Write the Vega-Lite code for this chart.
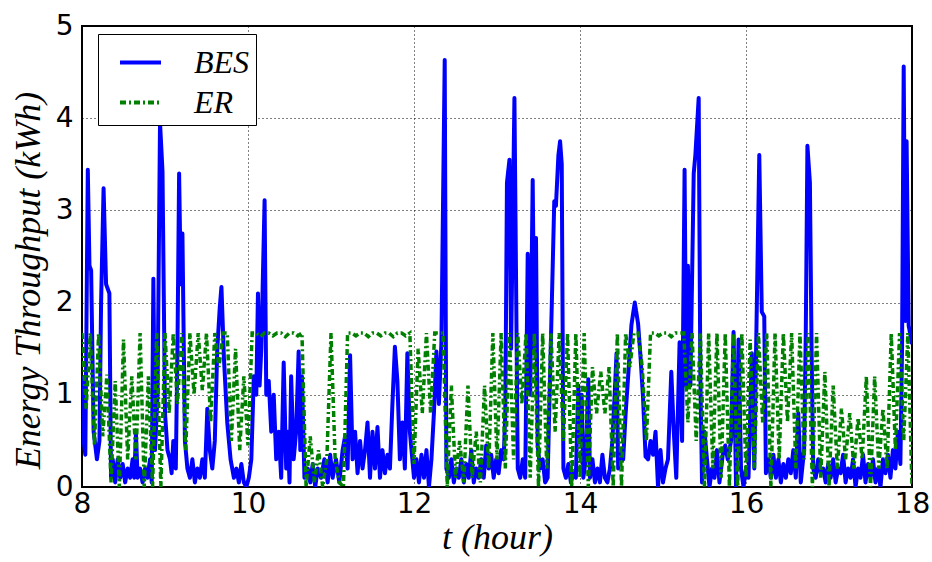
{
  "$schema": "https://vega.github.io/schema/vega-lite/v6.json",
  "width": 830,
  "height": 461,
  "autosize": {"type": "none"},
  "padding": {"left": 82, "top": 26, "right": 20, "bottom": 75},
  "background": "white",
  "config": {
    "view": {"stroke": "black", "strokeWidth": 2},
    "axis": {
      "domain": false,
      "grid": true,
      "gridColor": "black",
      "gridDash": [1, 3],
      "gridWidth": 1,
      "gridOpacity": 1,
      "ticks": false,
      "labelFlush": false,
      "labelFont": "DejaVu Sans",
      "labelFontSize": 28,
      "labelColor": "black",
      "titleFont": "Liberation Serif",
      "titleFontStyle": "italic",
      "titleFontWeight": "normal",
      "titleFontSize": 36,
      "titleColor": "black"
    },
    "legend": {
      "labelFont": "Liberation Serif",
      "labelFontStyle": "italic",
      "labelFontSize": 32,
      "labelColor": "black"
    }
  },
  "datasets": {
    "bes": [
      [8.00,1.2],[8.02,0.5],[8.04,0.35],[8.07,3.44],[8.09,2.4],[8.11,2.35],[8.14,0.6],[8.18,0.3],[8.21,0.5],[8.23,2.0],[8.26,3.24],[8.29,2.2],[8.33,2.1],[8.35,0.1],[8.37,0.3],[8.40,0.05],[8.43,0.3],[8.46,0.1],[8.49,0.25],[8.52,0.05],[8.55,0.2],[8.58,0.1],[8.61,0.3],[8.63,0.1],[8.65,0.58],[8.67,0.1],[8.70,0.2],[8.73,0.05],[8.76,0.2],[8.79,0.1],[8.82,0.3],[8.84,0.05],[8.86,2.26],[8.88,0.4],[8.91,1.0],[8.94,3.95],[8.97,3.42],[9.00,0.8],[9.03,0.4],[9.06,0.3],[9.08,0.15],[9.10,0.5],[9.13,0.2],[9.15,1.5],[9.17,3.4],[9.19,2.2],[9.21,2.75],[9.24,0.5],[9.27,0.2],[9.30,0.1],[9.33,0.3],[9.36,0.05],[9.39,0.2],[9.42,0.1],[9.45,0.3],[9.48,0.1],[9.51,0.85],[9.54,0.4],[9.57,0.2],[9.60,0.5],[9.63,1.5],[9.66,1.95],[9.68,2.17],[9.71,1.4],[9.75,0.7],[9.79,0.3],[9.83,0.1],[9.86,0.2],[9.89,0.05],[9.92,0.25],[9.95,0.05],[9.98,0.0],[10.01,0.1],[10.04,0.3],[10.07,1.2],[10.10,1.0],[10.12,2.1],[10.14,1.1],[10.16,1.5],[10.20,3.11],[10.22,1.0],[10.25,1.15],[10.28,0.6],[10.31,1.0],[10.34,0.3],[10.37,0.6],[10.40,0.1],[10.43,1.35],[10.46,0.2],[10.48,0.6],[10.50,0.05],[10.52,1.2],[10.55,0.3],[10.58,0.6],[10.61,1.47],[10.63,0.4],[10.65,1.2],[10.68,0.1],[10.72,0.2],[10.75,0.05],[10.78,0.25],[10.81,0.0],[10.84,0.2],[10.88,0.1],[10.92,0.3],[10.96,0.05],[10.99,0.35],[11.02,0.1],[11.06,0.3],[11.10,0.05],[11.14,0.4],[11.17,0.55],[11.20,0.2],[11.23,1.43],[11.26,0.3],[11.29,0.6],[11.32,0.15],[11.35,0.5],[11.38,0.2],[11.41,0.4],[11.44,0.7],[11.47,0.1],[11.50,0.6],[11.53,0.2],[11.56,0.65],[11.59,0.1],[11.62,0.4],[11.65,0.15],[11.68,0.35],[11.71,0.2],[11.74,0.9],[11.77,1.52],[11.80,1.15],[11.83,0.3],[11.86,0.7],[11.89,0.2],[11.92,1.45],[11.95,0.6],[11.98,0.3],[12.00,0.1],[12.03,0.3],[12.06,0.05],[12.09,0.35],[12.12,0.1],[12.15,0.4],[12.18,0.0],[12.21,0.3],[12.24,0.8],[12.27,1.47],[12.30,0.9],[12.33,1.56],[12.37,4.63],[12.39,0.2],[12.42,0.1],[12.45,0.3],[12.48,0.05],[12.51,0.2],[12.54,0.1],[12.57,0.3],[12.60,0.05],[12.63,0.25],[12.66,0.1],[12.69,0.4],[12.72,0.05],[12.75,0.2],[12.78,0.1],[12.81,0.3],[12.84,0.1],[12.87,0.45],[12.90,0.2],[12.93,0.35],[12.96,0.1],[12.99,0.3],[13.02,0.15],[13.05,0.4],[13.08,0.3],[13.10,0.8],[13.12,3.3],[13.15,3.55],[13.17,1.5],[13.21,4.22],[13.25,0.2],[13.28,0.1],[13.31,0.3],[13.34,0.1],[13.37,2.53],[13.40,1.0],[13.43,3.33],[13.45,1.5],[13.47,2.7],[13.49,0.45],[13.52,0.2],[13.55,0.3],[13.58,0.05],[13.61,0.1],[13.69,3.1],[13.71,3.05],[13.74,3.6],[13.76,3.75],[13.78,3.5],[13.80,0.2],[13.83,0.1],[13.86,0.25],[13.89,0.05],[13.92,0.15],[13.95,0.1],[13.98,1.1],[14.00,0.5],[14.02,1.0],[14.04,0.1],[14.07,0.3],[14.10,1.17],[14.12,0.1],[14.15,0.3],[14.18,0.05],[14.21,0.2],[14.24,0.05],[14.27,0.35],[14.30,0.1],[14.33,0.05],[14.36,0.2],[14.39,0.5],[14.42,1.05],[14.44,1.45],[14.46,0.2],[14.49,0.4],[14.52,0.3],[14.55,0.8],[14.58,1.2],[14.62,1.76],[14.66,2.0],[14.70,1.77],[14.73,1.4],[14.76,0.96],[14.79,0.33],[14.82,0.3],[14.85,0.5],[14.88,0.35],[14.91,0.6],[14.94,0.0],[14.97,0.4],[15.00,0.05],[15.03,0.2],[15.06,0.3],[15.10,1.25],[15.13,0.6],[15.16,0.1],[15.20,1.57],[15.23,0.5],[15.26,3.44],[15.28,1.1],[15.30,2.4],[15.33,1.1],[15.37,3.4],[15.39,3.6],[15.43,4.22],[15.45,1.2],[15.47,0.05],[15.50,0.6],[15.53,0.3],[15.56,0.0],[15.59,0.2],[15.62,0.1],[15.65,0.4],[15.68,0.05],[15.72,0.35],[15.75,0.45],[15.78,0.3],[15.82,0.5],[15.85,1.68],[15.88,0.0],[15.91,1.6],[15.94,0.2],[15.97,0.0],[16.00,0.2],[16.03,0.1],[16.07,1.45],[16.10,0.2],[16.12,1.4],[16.16,3.6],[16.19,1.9],[16.22,1.85],[16.24,0.15],[16.27,0.3],[16.30,0.1],[16.33,0.35],[16.36,0.1],[16.39,0.3],[16.42,0.05],[16.45,0.25],[16.48,0.1],[16.51,0.3],[16.54,0.15],[16.57,0.4],[16.60,0.1],[16.63,0.8],[16.66,0.05],[16.70,0.4],[16.72,1.65],[16.74,3.7],[16.77,3.3],[16.79,1.5],[16.81,0.2],[16.84,0.1],[16.87,0.3],[16.90,0.15],[16.93,0.2],[16.96,0.05],[16.99,0.25],[17.02,0.1],[17.05,0.3],[17.08,0.05],[17.11,0.2],[17.14,0.15],[17.17,0.35],[17.20,0.05],[17.23,0.2],[17.26,0.1],[17.29,0.3],[17.32,0.0],[17.35,0.2],[17.38,0.1],[17.41,0.35],[17.44,0.05],[17.47,0.25],[17.50,0.1],[17.53,0.3],[17.56,0.05],[17.59,0.2],[17.62,0.0],[17.65,0.3],[17.68,0.15],[17.71,0.35],[17.74,0.1],[17.77,0.4],[17.80,0.2],[17.83,0.6],[17.86,0.25],[17.88,1.5],[17.90,4.56],[17.92,1.8],[17.935,3.75],[17.96,1.75],[18.00,1.55]
    ],
    "er": [
      [8.00,1.67],[8.05,0.85],[8.10,1.67],[8.15,0.45],[8.20,1.67],[8.25,0.55],[8.30,1.22],[8.35,0.05],[8.40,1.15],[8.45,0.0],[8.50,1.6],[8.55,0.3],[8.60,1.2],[8.65,0.3],[8.70,1.67],[8.75,0.0],[8.80,1.2],[8.85,0.0],[8.90,1.67],[8.95,0.0],[9.00,1.67],[9.05,0.8],[9.10,1.67],[9.15,0.9],[9.20,1.67],[9.25,0.4],[9.30,1.67],[9.35,1.0],[9.40,1.67],[9.45,1.05],[9.50,1.67],[9.55,0.7],[9.60,1.67],[9.65,1.3],[9.70,1.67],[9.75,1.67],[9.80,0.5],[9.85,1.5],[9.90,0.4],[9.95,1.2],[10.00,0.45],[10.05,1.67],[10.10,1.67],[10.15,1.63],[10.20,1.67],[10.25,1.67],[10.30,1.64],[10.35,1.67],[10.40,1.67],[10.45,1.63],[10.50,1.67],[10.55,1.67],[10.60,1.64],[10.65,1.67],[10.70,0.0],[10.75,0.55],[10.80,0.05],[10.85,0.4],[10.90,0.0],[10.95,0.3],[11.00,1.67],[11.05,0.3],[11.10,0.05],[11.15,0.0],[11.20,1.67],[11.25,1.67],[11.30,1.64],[11.35,1.67],[11.40,1.67],[11.45,1.63],[11.50,1.67],[11.55,1.67],[11.60,1.64],[11.65,1.67],[11.70,1.67],[11.75,1.63],[11.80,1.67],[11.85,1.67],[11.90,1.64],[11.95,1.67],[12.00,0.25],[12.05,1.5],[12.10,0.8],[12.15,1.67],[12.20,0.8],[12.25,1.67],[12.30,1.67],[12.35,1.67],[12.40,0.0],[12.45,1.1],[12.50,0.1],[12.55,0.5],[12.60,0.05],[12.65,1.1],[12.70,0.1],[12.75,0.6],[12.80,0.05],[12.85,1.1],[12.90,0.2],[12.95,1.67],[13.00,0.3],[13.05,1.67],[13.10,0.2],[13.15,1.67],[13.20,0.3],[13.25,1.67],[13.30,0.9],[13.35,1.67],[13.40,0.1],[13.45,1.67],[13.50,0.0],[13.55,1.67],[13.60,0.2],[13.65,1.67],[13.70,0.6],[13.75,1.67],[13.80,0.5],[13.85,1.67],[13.90,0.0],[13.95,1.67],[14.00,0.1],[14.05,1.67],[14.10,0.0],[14.15,1.3],[14.20,0.8],[14.25,1.25],[14.30,0.8],[14.35,1.3],[14.40,0.0],[14.45,1.67],[14.50,0.0],[14.55,1.67],[14.60,1.3],[14.65,1.67],[14.70,1.67],[14.75,1.3],[14.80,0.5],[14.85,1.67],[14.90,1.67],[14.95,1.64],[15.00,1.67],[15.05,1.67],[15.10,1.63],[15.15,1.67],[15.20,1.67],[15.25,1.67],[15.30,0.7],[15.35,1.67],[15.40,0.5],[15.45,1.67],[15.50,0.0],[15.55,1.67],[15.60,0.2],[15.65,1.67],[15.70,0.1],[15.75,1.67],[15.80,0.0],[15.85,1.67],[15.90,0.0],[15.95,1.67],[16.00,0.1],[16.05,1.6],[16.10,0.2],[16.15,1.67],[16.20,0.7],[16.25,1.67],[16.30,0.0],[16.35,1.67],[16.40,0.3],[16.45,1.67],[16.50,0.7],[16.55,1.67],[16.60,0.2],[16.65,1.67],[16.70,0.3],[16.75,1.67],[16.80,0.0],[16.85,1.67],[16.90,0.1],[16.95,1.25],[17.00,0.0],[17.05,1.1],[17.10,0.2],[17.15,0.85],[17.20,0.3],[17.25,0.8],[17.30,0.2],[17.35,0.75],[17.40,0.3],[17.45,1.2],[17.50,0.0],[17.55,1.2],[17.60,0.2],[17.65,0.85],[17.70,0.2],[17.75,1.67],[17.80,0.4],[17.85,1.67],[17.90,0.5],[17.95,1.67],[18.00,0.0]
    ]
  },
  "encoding": {
    "x": {"field": "t", "type": "quantitative", "scale": {"domain": [8, 18], "nice": false, "zero": false},
      "axis": {"values": [8, 10, 12, 14, 16, 18], "format": "d", "title": "t (hour)", "labelPadding": 3, "titlePadding": 2}},
    "y": {"field": "v", "type": "quantitative", "scale": {"domain": [0, 5], "nice": false},
      "axis": {"values": [0, 1, 2, 3, 4, 5], "format": "d", "title": "Energy Throughput (kWh)", "labelPadding": 9, "titlePadding": 8, "titleY": 254}},
    "color": {"field": "series", "type": "nominal",
      "scale": {"domain": ["BES", "ER"], "range": ["#0000ff", "#008000"]},
      "legend": {"title": null, "orient": "none", "legendX": 16, "legendY": 8, "symbolType": "stroke", "symbolSize": 1681, "symbolStrokeWidth": 4, "strokeColor": "black", "fillColor": "white", "padding": 6, "symbolOffset": 14, "labelOffset": 31, "rowPadding": 1}},
    "strokeDash": {"field": "series", "type": "nominal",
      "scale": {"domain": ["BES", "ER"], "range": [[1, 0], [6, 3, 2, 3]]},
      "legend": {"title": null, "orient": "none", "legendX": 16, "legendY": 8, "symbolType": "stroke", "symbolSize": 1681, "symbolStrokeWidth": 4, "strokeColor": "black", "fillColor": "white", "padding": 6, "symbolOffset": 14, "labelOffset": 31, "rowPadding": 1}}
  },
  "layer": [
    {
      "data": {"name": "bes"},
      "transform": [
        {"calculate": "datum[0]", "as": "t"},
        {"calculate": "datum[1]", "as": "v"},
        {"calculate": "'BES'", "as": "series"}
      ],
      "mark": {"type": "line", "strokeWidth": 4, "strokeJoin": "round", "strokeCap": "butt", "clip": true}
    },
    {
      "data": {"name": "er"},
      "transform": [
        {"calculate": "datum[0]", "as": "t"},
        {"calculate": "datum[1]", "as": "v"},
        {"calculate": "'ER'", "as": "series"}
      ],
      "mark": {"type": "line", "strokeWidth": 3.5, "strokeJoin": "miter", "strokeCap": "butt", "clip": true}
    }
  ]
}
